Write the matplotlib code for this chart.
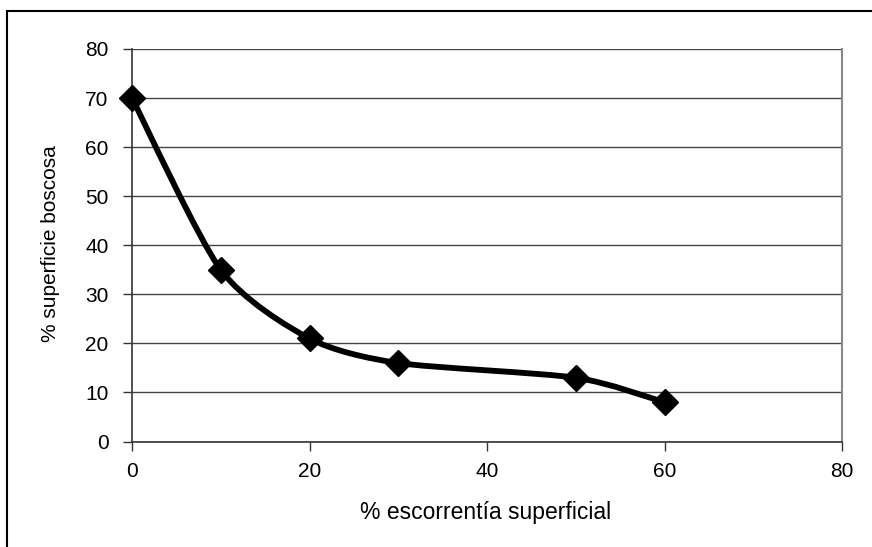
import numpy as np
import matplotlib
matplotlib.use("Agg")
import matplotlib.pyplot as plt
from matplotlib.path import Path
from matplotlib.patches import PathPatch, Rectangle

x_vals = [0, 10, 20, 30, 50, 60]
y_vals = [70, 35, 21, 16, 13, 8]
x_ticks = [0, 20, 40, 60, 80]
y_ticks = [0, 10, 20, 30, 40, 50, 60, 70, 80]
x_label = "% escorrentía superficial"
y_label = "% superficie boscosa"

plt.rcParams['font.family'] = ['Liberation Sans', 'DejaVu Sans']

W, H = 872, 547
fig = plt.figure(figsize=(W / 100, H / 100), dpi=100)
fig.patch.set_facecolor('white')

# outer chart border (top/left visible)
fig.patches.append(Rectangle((7 / W, -0.05), 1.2, 1 - 11 / H + 0.05, transform=fig.transFigure,
                             fill=False, edgecolor='black', linewidth=1.5))

ax = fig.add_axes([132 / W, 1 - 441.5 / H, (842 - 132) / W, (441.5 - 49) / H])
ax.set_xlim(0, 80)
ax.set_ylim(0, 80)
ax.set_xticks(x_ticks)
ax.set_yticks(y_ticks)
ax.yaxis.grid(True, color='#444444', linewidth=1.0)
ax.set_axisbelow(True)
for s in ['top', 'right']:
    ax.spines[s].set_color('#888888')
    ax.spines[s].set_linewidth(1.5)
for s in ['left', 'bottom']:
    ax.spines[s].set_color('#333333')
    ax.spines[s].set_linewidth(1.2)
ax.spines['top'].set_visible(False)
ax.tick_params(axis='both', direction='out', length=6.5, width=1, color='#333333',
               labelsize=15)
ax.tick_params(axis='y', pad=10.5)
ax.tick_params(axis='x', pad=8.5)

# smoothed line (Bezier through the data points)
pts = np.column_stack([x_vals, y_vals]).astype(float)
n = len(pts)
k = 1.0 / 8.0
verts = [tuple(pts[0])]
codes = [Path.MOVETO]
for i in range(n - 1):
    p0 = pts[i - 1] if i > 0 else pts[i]
    p1 = pts[i]
    p2 = pts[i + 1]
    p3 = pts[i + 2] if i + 2 < n else pts[i + 1]
    c1 = p1 + (p2 - p0) * k
    c2 = p2 - (p3 - p1) * k
    verts += [tuple(c1), tuple(c2), tuple(p2)]
    codes += [Path.CURVE4] * 3
ax.add_patch(PathPatch(Path(verts, codes), fill=False, edgecolor='black', linewidth=4.2,
                       capstyle='round', joinstyle='round', zorder=3))
ax.plot(x_vals, y_vals, linestyle='none', marker='D', markersize=13, color='black',
        zorder=4, clip_on=False)

fig.text(486 / W, 1 - 512 / H, x_label, ha='center', va='center', fontsize=16.5)
fig.text(51 / W, 1 - 244 / H, y_label, ha='center', va='center', rotation=90, fontsize=15)

fig.savefig('out.png', dpi=100, facecolor='white')
